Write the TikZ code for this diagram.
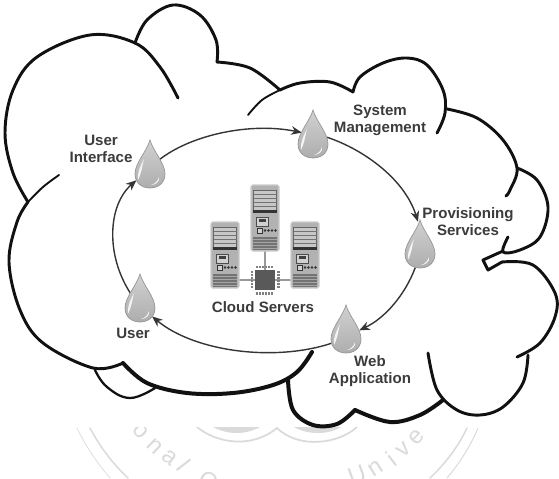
\documentclass[tikz,border=0pt]{standalone}
\usepackage{fontspec}
\setmainfont{Liberation Sans}
\usetikzlibrary{arrows.meta,calc}
\definecolor{inkdark}{HTML}{111111}
\definecolor{labelgrey}{HTML}{3C3C3C}
\definecolor{sealgrey}{HTML}{DADADA}
\tikzset{
  x=.75pt,y=-.75pt,
  cloudline/.style={draw=inkdark,line width=2.2pt,line cap=round,line join=round},
  cloudheavy/.style={cloudline,line width=3pt},
  cloudthin/.style={cloudline,line width=1.4pt},
  flow/.style={draw=inkdark!85,line width=1.05pt,-{Stealth[length=8pt,width=6.5pt]}},
  flowlabel/.style={font=\fontsize{11.3}{12.8}\selectfont\bfseries,text=labelgrey,align=center,inner sep=0pt},
  dropnode/.style={circle,minimum size=22.5pt,inner sep=0pt},
  sealline/.style={draw=sealgrey,line cap=round},
  sealletter/.style={font=\fontsize{18}{18}\selectfont,text=sealgrey,inner sep=0pt},
  hostbody/.style={fill=black!30,draw=black!20,line width=.8pt,rounded corners=1.2pt},
  droplet/.pic={
    \path[top color=black!18,bottom color=black!32,draw=black!42,line width=.5pt]
      (0,-33) .. controls (3,-22) and (15,-10) .. (15,1)
      .. controls (15,10) and (8,15) .. (0,15)
      .. controls (-8,15) and (-15,10) .. (-15,1)
      .. controls (-15,-10) and (-3,-22) .. (0,-33) -- cycle;
    \path[fill=white,opacity=.85] (-6,-14) .. controls (-10,-6) and (-13,0) .. (-12,7)
      .. controls (-9,2) and (-8,-6) .. (-6,-14) -- cycle;
    \path[fill=white,opacity=.9] (9,4) .. controls (8,8) and (5,11) .. (1,12)
      .. controls (5,12) and (10,9) .. (9,4) -- cycle;
  },
  hostbox/.pic={
    \path[hostbody] (-14,-33) rectangle (14,33);
    \path[fill=black!22] (-11.5,-28) rectangle (11.5,-8);
    \path[draw=black!60,line width=.5pt] (-11.5,-28) rectangle (11.5,-8);
    \foreach \yy in {-24,-20,-16,-12}
      \path[draw=black!55,line width=.6pt] (-11.5,\yy) -- (11.5,\yy);
    \path[fill=black!80] (-12,-8) rectangle (12,-5);
    \path[fill=black!18,draw=black!70,line width=.5pt] (-9,-1) rectangle (3,8);
    \path[fill=black!75] (-6,1) rectangle (1,4);
    \path[fill=black!18,draw=black!80,line width=.7pt] (-8,10) rectangle (-3,15);
    \foreach \xx in {0,3.5,7,10.5}
      \path[fill=black!80] (\xx,12.5) circle (1.4);
    \path[fill=black!55] (-12,19) rectangle (12,32);
    \foreach \yy in {21,24,27,30}
      \path[draw=black!35,line width=.4pt] (-12,\yy) -- (12,\yy);
  },
}
\begin{document}
\begin{tikzpicture}
\useasboundingbox[fill=white] (0,0) rectangle (559,478);

% faint seal along the lower edge
\begin{scope}
  \clip (0,427) rectangle (559,478);
  \draw[sealline,line width=.5pt] (77,428) .. controls (85,445) and (97,463) .. (110,478);
  \draw[sealline,line width=1.1pt] (90,428) .. controls (100,447) and (113,464) .. (128,478);
  \draw[sealline,line width=.7pt] (478,428) .. controls (470,447) and (459,464) .. (447,478);
  \draw[sealline,line width=1.1pt] (467,428) .. controls (458,447) and (445,464) .. (430,478);
  \draw[sealline,line width=1.3pt] (197,427) .. controls (215,442) and (250,450) .. (277,428)
    .. controls (300,450) and (340,443) .. (357,427);
  \fill[sealgrey] (213,427) .. controls (228,435) and (245,435) .. (260,427) -- cycle;
  \fill[sealgrey] (294,427) .. controls (308,435) and (328,435) .. (341,427) -- cycle;
  \foreach \xx/\yy/\rr/\ch in {141/431/-48/o,155/446/-44/n,170/458/-38/a,184/465/-52/l,208/481/-25/C,
    357/475/20/U,376/468/32/n,391/459/38/i,404/450/42/v,417/437/46/e}
    \node[sealletter,rotate=\rr] (seal\ch\xx) at (\xx,\yy) {\ch};
\end{scope}

% cloud outline, one stroke per lobe
\draw[cloudline] plot[smooth,tension=.6] coordinates {(28,202) (13,173) (5,133) (13,90) (37,57) (90,35) (135,43) (160,67) (178,98)};
\draw[cloudthin] plot[smooth,tension=.6] coordinates {(59,175) (43,187) (28,202)};
\draw[cloudline] plot[smooth,tension=.6] coordinates {(28,202) (17,222) (9,262) (20,310) (43,343) (93,368) (123,363)};
\draw[cloudline] plot[smooth,tension=.6] coordinates {(135,43) (147,20) (173,5) (200,15) (216,40) (217,62)};
\draw[cloudline] plot[smooth,tension=.6] coordinates {(217,62) (250,68) (280,90)};
\draw[cloudthin] plot[smooth,tension=.6] coordinates {(248,115) (262,100) (280,90)};
\draw[cloudline] plot[smooth,tension=.6] coordinates {(280,90) (300,83) (330,82) (353,92)};
\draw[cloudline] plot[smooth,tension=.6] coordinates {(353,92) (360,77) (383,63) (407,58) (427,65) (443,90) (445,113) (437,133)};
\draw[cloudline] plot[smooth,tension=.6] coordinates {(447,109) (477,118) (503,140) (517,168) (510,190) (506,196)};
\draw[cloudline] plot[smooth,tension=.6] coordinates {(517,168) (537,180) (548,207) (540,237) (520,250) (503,252) (508,237)};
\draw[cloudline] (503,251) -- (483,260) -- (488,270) -- (502,262);
\draw[cloudline] plot[smooth,tension=.6] coordinates {(502,262) (533,265) (555,293) (555,317) (540,343) (517,357)};
\draw[cloudline] plot[smooth,tension=.6] coordinates {(528,355) (523,383) (503,407) (480,415) (457,410) (437,390) (428,353)};
\draw[cloudheavy] plot[smooth,tension=.6] coordinates {(443,400) (420,415) (390,422) (355,410)};
\draw[cloudheavy] plot[smooth,tension=.6] coordinates {(355,410) (337,424) (313,425) (293,410) (288,380)};
\draw[cloudheavy] plot[smooth,tension=.6] coordinates {(123,363) (147,383) (187,393) (233,393) (273,385) (297,372) (312,352)};
\draw[cloudline,line width=1.7pt] plot[smooth,tension=.7] coordinates {(95,370) (107,387) (130,398) (155,388)};

% anchors of the service ring
\node[dropnode] (user) at (140,307) {};
\node[dropnode] (ui) at (150,173) {};
\node[dropnode] (sys) at (313,143) {};
\node[dropnode] (prov) at (420,253) {};
\node[dropnode] (web) at (346,338) {};

% service ring
\draw[flow] (user.125) .. controls (105,255) and (108,205) .. (ui.208);
\draw[flow] (ui.56) .. controls (190,135) and (250,122) .. (sys.137);
\draw[flow] (sys.22) .. controls (365,150) and (405,180) .. ($(prov.north)+(-2,-16)$);
\draw[flow] (prov.-108) .. controls (405,295) and (385,318) .. (web.30);
\draw[flow] (web.200) .. controls (275,362) and (195,352) .. (user.-38);

% droplets
\foreach \nm in {user,ui,sys,prov,web}
  \pic at (\nm) {droplet};

% cloud servers
\node[inner sep=0pt,minimum width=21pt,minimum height=49.5pt] (hostl) at (225,255) {};
\node[inner sep=0pt,minimum width=21pt,minimum height=49.5pt] (hostc) at (265,218) {};
\node[inner sep=0pt,minimum width=21pt,minimum height=49.5pt] (hostr) at (305,255) {};
\node[fill=black!65,minimum size=15pt,inner sep=0pt] (chip) at (265,280) {};
\draw[black!40,line width=.8pt] (hostl.east |- chip) -- (chip.west);
\draw[black!40,line width=.8pt] (hostr.west |- chip) -- (chip.east);
\draw[black!40,line width=.8pt] (hostc.south) -- (chip.north);
\foreach \nm in {hostl,hostc,hostr}
  \pic at (\nm) {hostbox};
\foreach \tt in {-8,-5,-2,1,4,7}{
  \fill[black!50] (265+\tt-.8,265.5) rectangle (265+\tt+1.2,268);
  \fill[black!50] (265+\tt-.8,292) rectangle (265+\tt+1.2,294.5);
  \fill[black!50] (250.5,280+\tt-.8) rectangle (253,280+\tt+1.2);
  \fill[black!50] (277,280+\tt-.8) rectangle (279.5,280+\tt+1.2);
}

% labels
\node[flowlabel] (lbui) at (101,149) {User\\Interface};
\node[flowlabel] (lbsys) at (380,120) {System\\Management};
\node[flowlabel] (lbprov) at (468,222) {Provisioning\\Services};
\node[flowlabel] (lbweb) at (370,371) {Web\\Application};
\node[flowlabel] (lbuser) at (133,333) {User};
\node[flowlabel] (lbcloud) at (263,307) {Cloud Servers};
\end{tikzpicture}
\end{document}
